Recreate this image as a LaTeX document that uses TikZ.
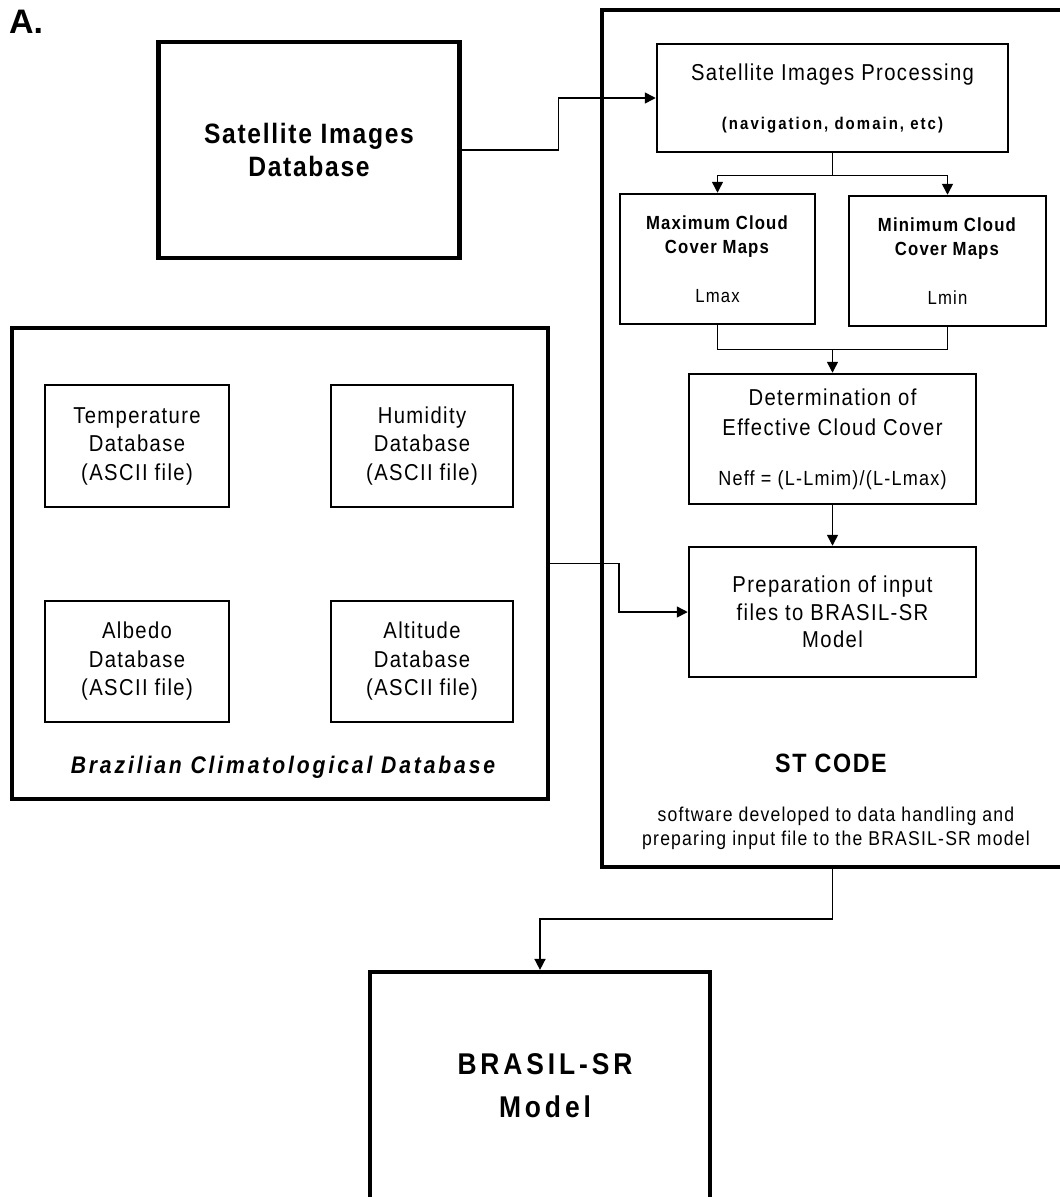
\documentclass[tikz,border=0pt]{standalone}
\usepackage{fontspec}
\setmainfont{Liberation Sans}[FakeStretch=0.88, LetterSpace=6]
\newfontfamily\plainsans{Liberation Sans}
\usetikzlibrary{arrows.meta}
\begin{document}
\begin{tikzpicture}[x=1pt,y=-1pt,
  heavy/.style={draw, line width=4.2pt, inner sep=0pt, align=center},
  light/.style={draw, line width=2.5pt, inner sep=0pt, align=center},
  link/.style={line width=1.5pt},
  conn/.style={line width=1.5pt, -{Triangle[length=11pt,width=11pt]}},
  reg/.style={font=\fontsize{23}{28.5}\selectfont},
]
\useasboundingbox (0,0) rectangle (1060,1197);
\clip (0,0) rectangle (1060,1197);

\node[anchor=north west, inner sep=0pt, font=\plainsans\bfseries\fontsize{34}{34}\selectfont] (lbl) at (9,10) {A.};

% Satellite images database
\node[heavy, minimum width=301, minimum height=216, font=\bfseries\fontsize{28}{33}\selectfont] (sid) at (309,150) {Satellite Images\\Database};

% ST CODE outer frame
\node[heavy, minimum width=480, minimum height=857] (st) at (842,438.5) {};

\node[light, minimum width=351, minimum height=108, font=\fontsize{23}{49}\selectfont] (sip) at (832.5,98)
  {Satellite Images Processing\\{\bfseries\fontsize{17}{20}\selectfont\addfontfeatures{LetterSpace=12}(navigation, domain, etc)}};

\node[light, minimum width=195, minimum height=130, font=\fontsize{19}{24}\selectfont] (max) at (717.5,259)
  {\textbf{Maximum Cloud}\\\textbf{Cover Maps}\\[25pt]Lmax};
\node[light, minimum width=197, minimum height=130, font=\fontsize{19}{24}\selectfont] (min) at (947.5,261)
  {\textbf{Minimum Cloud}\\\textbf{Cover Maps}\\[25pt]Lmin};

\node[light, minimum width=287, minimum height=130, font=\fontsize{23}{30}\selectfont] (det) at (832.5,439)
  {Determination of\\Effective Cloud Cover\\[20pt]{\fontsize{20.5}{30}\selectfont Neff = (L-Lmim)/(L-Lmax)}};

\node[light, minimum width=287, minimum height=130, font=\fontsize{23}{27.5}\selectfont] (prep) at (832.5,612)
  {Preparation of input\\files to BRASIL-SR\\Model};

\node[font=\bfseries\fontsize{26.5}{30}\selectfont, inner sep=0pt] (sttitle) at (831,763) {ST CODE};
\node[font=\fontsize{20}{24}\selectfont, align=center, inner sep=0pt] (stdesc) at (836,828)
  {software developed to data handling and\\preparing input file to the BRASIL-SR model};

% Brazilian climatological database
\node[heavy, minimum width=536, minimum height=471] (bcd) at (280,563.5) {};
\node[light, minimum width=184, minimum height=122, reg] (temp) at (137,446) {Temperature\\Database\\(ASCII file)};
\node[light, minimum width=182, minimum height=122, reg] (hum) at (422,446) {Humidity\\Database\\(ASCII file)};
\node[light, minimum width=184, minimum height=121, reg] (alb) at (137,661.5) {Albedo\\Database\\(ASCII file)};
\node[light, minimum width=182, minimum height=121, reg] (alt) at (422,661.5) {Altitude\\Database\\(ASCII file)};
\node[inner sep=0pt, font=\bfseries\itshape\fontsize{24}{28}\selectfont\addfontfeatures{LetterSpace=12}] (bcdtitle) at (283,767) {Brazilian Climatological Database};

% BRASIL-SR model
\node[heavy, minimum width=340, minimum height=260] (brasil) at (540,1102) {};
\node[inner sep=0pt, align=center, font=\bfseries\fontsize{30}{43}\selectfont\addfontfeatures{LetterSpace=13}] (brtext) at (545,1086) {BRASIL-SR\\Model};

% connectors
\draw[conn] (sid.east) -- ++(97,0) |- (sip.west);
\draw[link] (sip.south) -- ++(0,22) coordinate (split);
\draw[conn] (split) -| (max.north);
\draw[conn] (split) -| (min.north);
\draw[link] (max.south) -- ++(0,24) coordinate (mL) -| (min.south);
\draw[conn] (det.north |- mL) -- (det.north);
\draw[conn] (det.south) -- (prep.north);
\draw[conn] (bcd.east) -- ++(69,0) |- (prep.west);
\draw[conn] (prep.south |- st.south) -- ++(0,50) coordinate (drop) -| (brasil.north);
\end{tikzpicture}
\end{document}
